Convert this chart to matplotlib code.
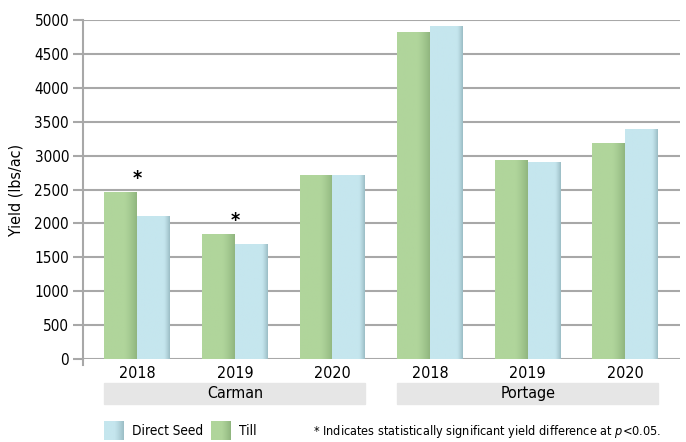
import numpy as np
import matplotlib
matplotlib.use("Agg")
import matplotlib.pyplot as plt
from matplotlib.patches import Rectangle
from matplotlib.colors import to_rgb

plt.rcParams['font.family'] = ['DejaVu Sans']
plt.rcParams['font.stretch'] = 'condensed'

sites = ["Carman", "Portage"]
years = ["2018", "2019", "2020", "2018", "2019", "2020"]
till = [2460, 1840, 2710, 4810, 2935, 3185]
direct_seed = [2095, 1695, 2710, 4910, 2905, 3380]
significant = [True, True, False, False, False, False]
yticks = [0, 500, 1000, 1500, 2000, 2500, 3000, 3500, 4000, 4500, 5000]

TILL_C = "#b0d59b"
TILL_D = "#90b67f"
DS_C = "#c5e6ee"
DS_D = "#9cbec6"
GRID_C = "#a8a8a8"

fig = plt.figure(figsize=(6.86, 4.42), dpi=100)
ax = fig.add_axes([83/686, 1 - 359/442, (680 - 83)/686, (359 - 20)/442])

x = np.arange(len(years))
w = 0.337
b1 = ax.bar(x - w/2, till, w, color=TILL_C, zorder=3, linewidth=0)
b2 = ax.bar(x + w/2, direct_seed, w, color=DS_C, zorder=3, linewidth=0)


def shade(bars, base, dark, start):
    c0 = np.array(to_rgb(base))
    c1 = np.array(to_rgb(dark))
    n = 64
    t = np.linspace(0, 1, n)
    f = np.clip((t - start) / (1 - start), 0, 1) ** 1.3
    row = c0[None, :] * (1 - f[:, None]) + c1[None, :] * f[:, None]
    img = row[None, :, :]
    for p in bars:
        x0 = p.get_x()
        ax.imshow(img, extent=[x0, x0 + p.get_width(), 0, p.get_height()],
                  aspect='auto', zorder=3.5, interpolation='bilinear')


shade(b1, TILL_C, TILL_D, 0.62)
shade(b2, DS_C, DS_D, 0.82)

ax.set_xlim(-0.555, 5.56)
ax.set_ylim(0, 5000)
ax.set_yticks(yticks)
ax.set_yticklabels([str(v) for v in yticks], fontsize=11)
ax.yaxis.grid(True, color=GRID_C, linewidth=1.5, zorder=0)
ax.set_axisbelow(True)
for s in ["top", "right", "bottom"]:
    ax.spines[s].set_visible(False)
ax.spines["left"].set_color(GRID_C)
ax.spines["left"].set_linewidth(1.5)
ax.spines["left"].set_bounds(0, 5000)
ax.plot([0, 0], [-0.018, 0], transform=ax.transAxes, color=GRID_C, lw=1.5, clip_on=False)
ax.tick_params(axis='y', length=7, width=1.5, color=GRID_C, pad=3)
ax.set_xticks(x)
ax.set_xticklabels(years, fontsize=11.5)
ax.tick_params(axis='x', length=0, pad=5)
ax.set_ylabel("Yield (lbs/ac)", fontsize=11.5)
ax.yaxis.set_label_coords(-0.1, 0.5)

# significance stars
for i, sig in enumerate(significant):
    if sig:
        ax.text(x[i], max(till[i], direct_seed[i]) + 115, "*", ha='center', va='baseline',
                fontsize=14, fontweight='bold')

# site bands
xl = ax.get_xlim()
for k, site in enumerate(sites):
    left = x[3*k] - w
    right = x[3*k + 2] + w
    xa0 = (left - xl[0]) / (xl[1] - xl[0])
    xa1 = (right - xl[0]) / (xl[1] - xl[0])
    ax.add_patch(Rectangle((xa0, -0.0705), xa1 - xa0, -0.062, transform=ax.transAxes,
                           color="#e6e6e6", clip_on=False, zorder=1))
    ax.text((xa0 + xa1) / 2, -0.1015, site, transform=ax.transAxes, ha='center',
            va='center', fontsize=11.5)

# legend
def legpatch(px, color, dark, label):
    c0 = np.array(to_rgb(color)); c1 = np.array(to_rgb(dark))
    t = np.linspace(0, 1, 32)
    f = np.clip((t - 0.5) / 0.5, 0, 1) ** 1.3
    row = c0[None, :] * (1 - f[:, None]) + c1[None, :] * f[:, None]
    lax = fig.add_axes([px/686, 1 - 440/442, 20/686, 19/442])
    lax.imshow(row[None, :, :], aspect='auto', interpolation='bilinear')
    lax.axis('off')
    fig.text((px + 28)/686, 1 - 431/442, label, ha='left', va='center', fontsize=9.8)

legpatch(104, DS_C, DS_D, "Direct Seed")
legpatch(211, TILL_C, TILL_D, "Till")

fig.text(313/686, 1 - 431/442,
         r"* Indicates statistically significant yield difference at $\it{p}$<$\it{0.05}$.",
         ha='left', va='center', fontsize=9.05)

fig.savefig("out.png", dpi=100)
